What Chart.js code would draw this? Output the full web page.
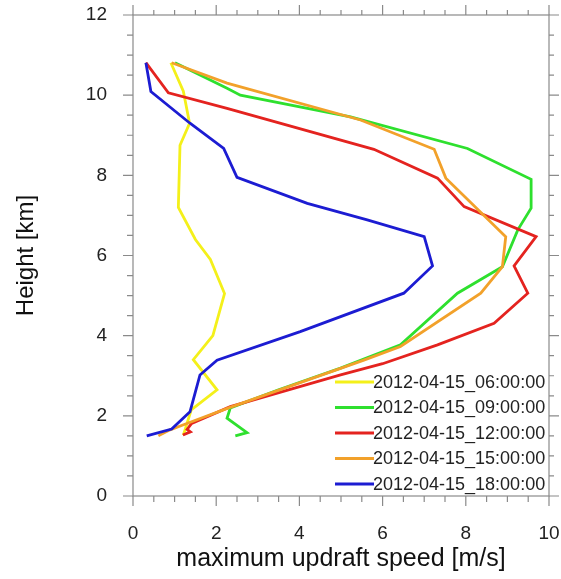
<!DOCTYPE html>
<html>
<head>
<meta charset="utf-8">
<script src="https://cdn.jsdelivr.net/npm/chart.js@4.4.0/dist/chart.umd.min.js"></script>
<style>
  html, body { margin: 0; padding: 0; background: #fff; }
</style>
</head>
<body>
<canvas id="updraftChart" width="561" height="579"></canvas>
<script>
// Run labels (legend order)
const runLabels = ['2012-04-15_06:00:00', '2012-04-15_09:00:00', '2012-04-15_12:00:00',
                   '2012-04-15_15:00:00', '2012-04-15_18:00:00'];
const runColors = ['#f4f01a', '#2ee02e', '#e4231f', '#f2a12a', '#1c1cd2'];

// Profiles: height [km] and max updraft [m/s]
const height06 = [10.81, 10.1, 9.3, 8.75, 7.2, 6.4, 5.9, 5.05, 4.0, 3.4, 2.65, 2.15, 1.65, 1.52];
const speed06  = [0.91, 1.21, 1.36, 1.13, 1.09, 1.5, 1.86, 2.2, 1.92, 1.45, 2.02, 1.4, 1.25, 1.21];

const height09 = [10.81, 10.17, 10.0, 9.46, 8.67, 7.9, 7.18, 6.64, 5.72, 5.06, 3.77, 3.19, 2.65, 2.2, 1.94, 1.58, 1.5];
const speed09  = [1.01, 2.26, 2.58, 5.23, 8.04, 9.57, 9.57, 9.25, 8.88, 7.8, 6.43, 4.99, 3.5, 2.34, 2.26, 2.74, 2.46];

const height12 = [10.81, 10.06, 9.67, 8.65, 7.93, 7.22, 6.47, 5.74, 5.06, 4.31, 3.77, 3.3, 3.02, 2.23, 1.81, 1.66, 1.6, 1.52];
const speed12  = [0.31, 0.85, 2.26, 5.79, 7.32, 7.96, 9.69, 9.16, 9.49, 8.68, 7.32, 6.0, 4.99, 2.34, 1.41, 1.3, 1.38, 1.2];

const height15 = [10.81, 10.3, 9.38, 8.65, 7.93, 6.47, 5.72, 5.06, 3.73, 3.39, 2.2, 1.77, 1.65, 1.5];
const speed15  = [0.93, 2.26, 5.47, 7.24, 7.52, 8.96, 8.88, 8.36, 6.43, 5.55, 2.3, 1.2, 0.89, 0.61];

const height18 = [10.81, 10.09, 9.3, 8.67, 7.95, 7.3, 6.89, 6.47, 5.74, 5.06, 4.1, 3.39, 3.02, 2.6, 2.1, 1.67, 1.5];
const speed18  = [0.31, 0.43, 1.37, 2.18, 2.5, 4.19, 5.63, 7.0, 7.2, 6.51, 4.02, 2.02, 1.61, 1.5, 1.37, 0.93, 0.33];

const heights = [height06, height09, height12, height15, height18];
const speeds = [speed06, speed09, speed12, speed15, speed18];

const xTickLabels = [0, 2, 4, 6, 8, 10];
const yTickLabels = [0, 2, 4, 6, 8, 10, 12];

const fontFamily = '"Liberation Sans", Arial, Helvetica, sans-serif';
const axisGray = '#8a8a8a';

function toPoints(hs, vs) {
    return hs.map((h, i) => ({ x: vs[i], y: h }));
}

// no extra room for label overhang, the box is fixed
function noPad(scale) {
    scale.paddingLeft = 0;
    scale.paddingRight = 0;
    scale.paddingTop = 0;
    scale.paddingBottom = 0;
}

const datasets = runLabels.map((label, i) => ({
    label: label,
    data: toPoints(heights[i], speeds[i]),
    borderColor: runColors[i],
    borderWidth: 2.8,
    showLine: true,
    pointRadius: 0,
    tension: 0,
    order: runLabels.length - i
}));

// frame, tick marks and the legend box
const framePlugin = {
    id: 'frame',
    afterDraw(chart) {
        const ctx = chart.ctx;
        const a = chart.chartArea;
        const xs = chart.scales.x, ys = chart.scales.y;
        ctx.save();
        ctx.strokeStyle = axisGray;
        ctx.lineWidth = 1.2;
        ctx.strokeRect(a.left, a.top, a.right - a.left, a.bottom - a.top);

        ctx.beginPath();
        for (let v = 0; v <= 10.001; v += 0.5) {
            const px = xs.getPixelForValue(v);
            const major = Math.abs(v % 2) < 0.01;
            ctx.moveTo(px, a.bottom); ctx.lineTo(px, a.bottom + (major ? 10 : 6));
            ctx.moveTo(px, a.top); ctx.lineTo(px, a.top - (major ? 10 : 5));
        }
        for (let v = 0; v <= 12.001; v += 0.5) {
            const py = ys.getPixelForValue(v);
            const major = Math.abs(v % 2) < 0.01;
            ctx.moveTo(a.left, py); ctx.lineTo(a.left - (major ? 10 : 6), py);
            ctx.moveTo(a.right, py); ctx.lineTo(a.right + (major ? 10 : 5), py);
        }
        ctx.stroke();

        // legend, bottom right inside the plot
        ctx.font = '18px ' + fontFamily;
        ctx.textBaseline = 'middle';
        ctx.textAlign = 'left';
        const rowY = [382, 407.5, 433, 458.5, 484];
        runLabels.forEach((label, i) => {
            ctx.strokeStyle = runColors[i];
            ctx.lineWidth = 2.8;
            ctx.beginPath();
            ctx.moveTo(335, rowY[i]);
            ctx.lineTo(374, rowY[i]);
            ctx.stroke();
            ctx.fillStyle = '#222';
            ctx.fillText(label, 373, rowY[i] + 1);
        });
        ctx.restore();
    }
};

const ctx = document.getElementById('updraftChart').getContext('2d');

const updraftChart = new Chart(ctx, {
    type: 'scatter',
    data: { datasets: datasets },
    options: {
        responsive: false,
        animation: false,
        layout: { padding: { top: 15, right: 12, left: 0, bottom: 0 } },
        plugins: {
            legend: { display: false },
            tooltip: { enabled: false }
        },
        scales: {
            x: {
                type: 'linear',
                min: 0,
                max: 10,
                afterFit: (scale) => { scale.height = 83; noPad(scale); },
                afterBuildTicks: (scale) => { scale.ticks = xTickLabels.map(v => ({ value: v })); },
                grid: { display: false, drawTicks: false },
                border: { display: false },
                ticks: {
                    padding: 26,
                    color: '#222',
                    font: { family: fontFamily, size: 19 }
                },
                title: {
                    display: true,
                    text: 'maximum updraft speed [m/s]',
                    color: '#111',
                    font: { family: fontFamily, size: 25 },
                    padding: { top: 0, bottom: 5 }
                }
            },
            y: {
                type: 'linear',
                min: 0,
                max: 12,
                afterFit: (scale) => { scale.width = 133; noPad(scale); },
                afterBuildTicks: (scale) => { scale.ticks = yTickLabels.map(v => ({ value: v })); },
                grid: { display: false, drawTicks: false },
                border: { display: false },
                ticks: {
                    padding: 26,
                    color: '#222',
                    font: { family: fontFamily, size: 19 }
                },
                title: {
                    display: true,
                    text: 'Height [km]',
                    color: '#111',
                    font: { family: fontFamily, size: 24 },
                    padding: { top: 12, bottom: 0 }
                }
            }
        }
    },
    plugins: [framePlugin]
});
</script>
</body>
</html>
